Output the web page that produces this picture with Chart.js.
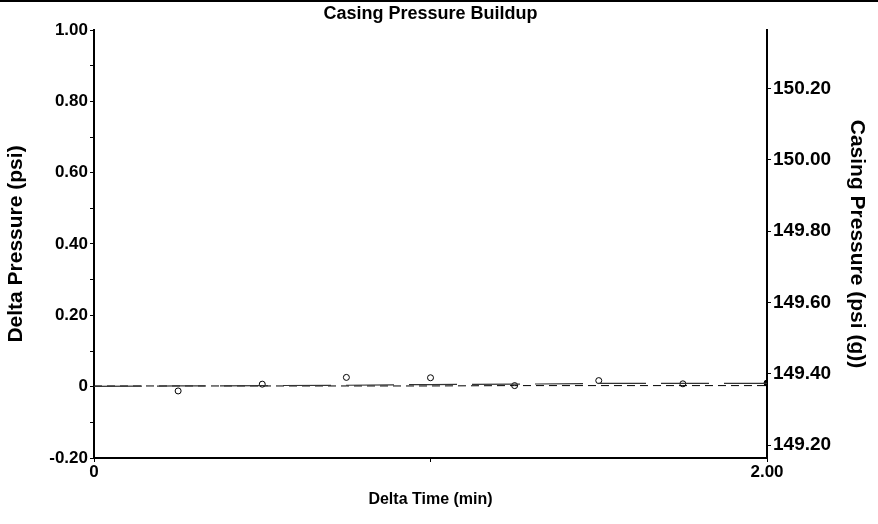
<!DOCTYPE html>
<html>
<head>
<meta charset="utf-8">
<script src="https://cdn.jsdelivr.net/npm/chart.js@4.4.1/dist/chart.umd.min.js"></script>
<style>
    body { margin: 0; background: #fff; }
    #wrap { width: 878px; height: 524px; }
</style>
</head>
<body>
<div id="wrap"><canvas id="buildup_chart" width="878" height="524"></canvas></div>
<script>
// values
const time = [0, 0.25, 0.5, 0.75, 1.0, 1.25, 1.5, 1.75, 2.0]
const trend = [0.001, 0.002, 0.003, 0.004, 0.006, 0.007, 0.009, 0.0095, 0.0095]
const baseline = [0.002, 0.002, 0.002, 0.002, 0.002, 0.003, 0.003, 0.003, 0.003]
const sample_time = [0.25, 0.5, 0.75, 1.0, 1.25, 1.5, 1.75, 2.0]
const sample_delta = [-0.012, 0.007, 0.026, 0.025, 0.003, 0.017, 0.008, 0.010]

const left_ticks = [-0.2, -0.1, 0, 0.1, 0.2, 0.3, 0.4, 0.5, 0.6, 0.7, 0.8, 0.9, 1.0]
const right_ticks = [149.20, 149.40, 149.60, 149.80, 150.00, 150.20]
const x_ticks = [0, 1.0, 2.0]

const left_min = -0.2, left_max = 1.0
const right_min = 149.164, right_max = 150.364

function toXY(xs, ys) {
    let out = new Array()
    for (let i = 0; i < xs.length; i++) {
        out.push({x: xs[i], y: ys[i]})
    }
    return out
}

Chart.defaults.font.family = "'Liberation Sans', Arial, sans-serif"
Chart.defaults.font.weight = "bold"
Chart.defaults.color = "#000"

const leftTickFont = {size: 17, weight: "bold"}
const rightTickFont = {size: 19, weight: "bold"}
const sideTitleFont = {size: 21, weight: "bold"}

const extras = {
    id: 'extras',
    afterDraw(chart) {
        const ctx = chart.ctx
        ctx.save()
        ctx.strokeStyle = "#000"
        ctx.lineWidth = 2
        ctx.beginPath()
        ctx.moveTo(0, 1)
        ctx.lineTo(chart.width, 1)
        ctx.stroke()
        ctx.fillStyle = "#000"
        ctx.font = "bold 18px 'Liberation Sans', Arial, sans-serif"
        ctx.textAlign = "center"
        ctx.textBaseline = "middle"
        const a = chart.chartArea
        ctx.fillText("Casing Pressure Buildup", (a.left + a.right) / 2, 14)
        ctx.restore()
    }
}

function fixWidth(w) {
    return function (scale) {
        scale.width = w
        scale.paddingTop = 0
        scale.paddingBottom = 0
    }
}

const buildup_chart = new Chart("buildup_chart", {
    type: "line",
    data: {
        datasets: [
            {
                label: 'Trend',
                data: toXY(time, trend),
                yAxisID: 'delta',
                borderColor: '#333',
                borderWidth: 1.2,
                borderDash: [48, 15],
                pointRadius: 0,
                fill: false
            },
            {
                label: 'Baseline',
                data: toXY(time, baseline),
                yAxisID: 'delta',
                borderColor: '#000',
                borderWidth: 1,
                borderDash: [8, 5],
                pointRadius: 0,
                fill: false
            },
            {
                label: 'Delta Pressure',
                data: toXY(sample_time, sample_delta),
                yAxisID: 'delta',
                showLine: false,
                pointRadius: 3,
                pointBorderWidth: 1,
                pointBorderColor: '#000',
                pointBackgroundColor: sample_time.map((t, i) => i == sample_time.length - 1 ? '#000' : '#fff')
            }
        ]
    },
    options: {
        responsive: false,
        animation: false,
        layout: {padding: {top: 30, left: 0, right: 0, bottom: 0}},
        plugins: {
            legend: {display: false},
            tooltip: {enabled: false}
        },
        scales: {
            x: {
                type: 'linear', min: 0, max: 2.0,
                afterBuildTicks: (s) => { s.ticks = x_ticks.map(v => ({value: v})) },
                afterFit: (s) => { s.height = 66; s.paddingLeft = 0; s.paddingRight = 0 },
                ticks: {
                    font: leftTickFont, padding: 0, maxRotation: 0, autoSkip: false,
                    callback: (v) => v == 0 ? "0" : (v == 2 ? "2.00" : "")
                },
                grid: {drawOnChartArea: false, color: '#000', tickLength: 4},
                border: {color: '#000', width: 2},
                title: {display: true, text: 'Delta Time (min)', font: {size: 16, weight: "bold"}, padding: {top: 0, bottom: 15}}
            },
            delta: {
                type: 'linear', position: 'left', min: left_min, max: left_max,
                afterBuildTicks: (s) => { s.ticks = left_ticks.map(v => ({value: v})) },
                afterFit: fixWidth(94),
                ticks: {
                    font: leftTickFont, padding: 2, autoSkip: false,
                    callback: function (v) {
                        const n = Math.round(v * 10)
                        if (n % 2 != 0) return ""
                        if (n == 0) return "0"
                        return v.toFixed(2)
                    }
                },
                grid: {drawOnChartArea: false, color: '#000', tickLength: 4},
                border: {color: '#000', width: 2},
                title: {display: true, text: 'Delta Pressure (psi)', font: sideTitleFont, padding: {top: 4, bottom: 0}}
            },
            casing: {
                type: 'linear', position: 'right', min: right_min, max: right_max,
                afterBuildTicks: (s) => { s.ticks = right_ticks.map(v => ({value: v})) },
                afterFit: fixWidth(111),
                ticks: {
                    font: rightTickFont, padding: 2, autoSkip: false,
                    callback: (v) => v.toFixed(2)
                },
                grid: {drawOnChartArea: false, color: '#000', tickLength: 4},
                border: {color: '#000', width: 2},
                title: {display: true, text: 'Casing Pressure (psi (g))', font: sideTitleFont, padding: {top: 9, bottom: 0}}
            }
        }
    },
    plugins: [extras]
});
</script>
</body>
</html>
